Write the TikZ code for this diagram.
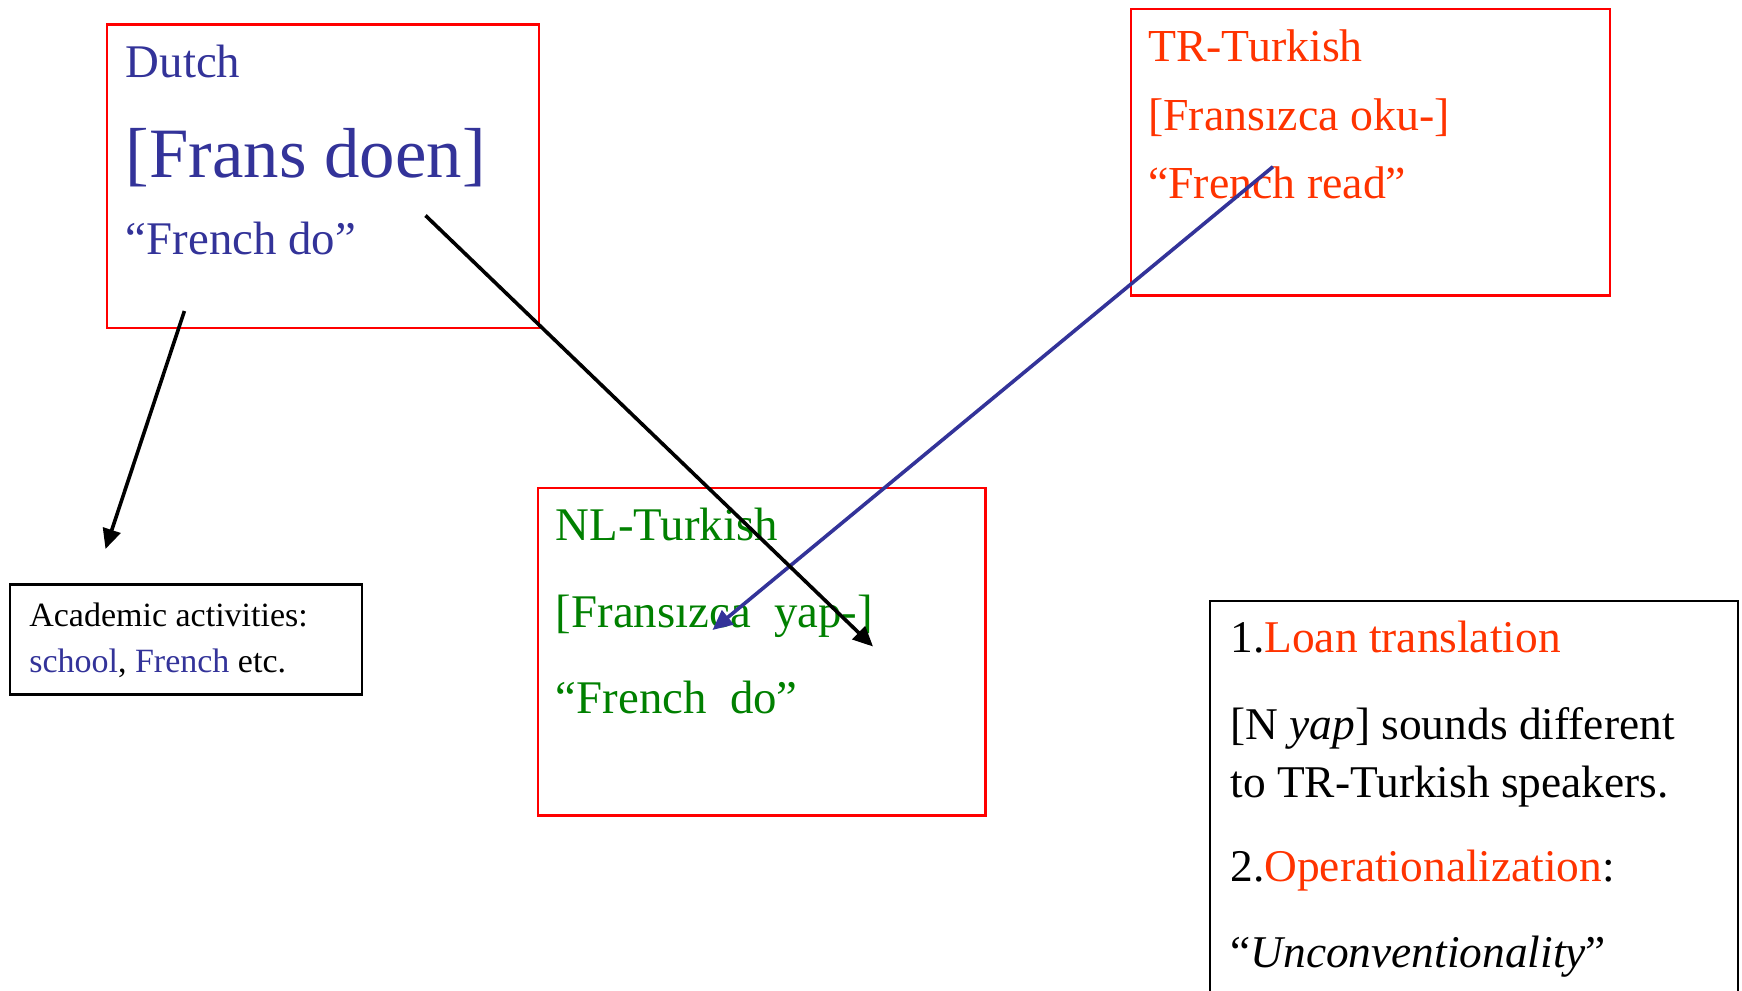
\documentclass[tikz,border=0pt]{standalone}
\usepackage{fontspec}
\setmainfont{Liberation Serif}
\usetikzlibrary{arrows.meta}
\definecolor{dblue}{HTML}{333399}
\definecolor{tred}{HTML}{FF3300}
\definecolor{boxred}{HTML}{FF0000}
\definecolor{dgreen}{HTML}{008000}
\begin{document}
\begin{tikzpicture}[x=0.5pt,y=-0.5pt,
  redbox/.style={draw=boxred,line width=1.1pt,anchor=north west,inner sep=0pt},
  blackbox/.style={draw=black,line width=1.2pt,anchor=north west,inner sep=0pt},
  txt/.style={anchor=base west,inner sep=0pt},
  fmain/.style={font=\fontsize{23.4}{28}\selectfont},
  arr/.style={line width=1.8pt,-{Triangle[length=10pt,width=9pt]}}]
\useasboundingbox (0,0) rectangle (1742,991);
\clip (0,0) rectangle (1742,991);
% boxes
\node[redbox,minimum width=216.1pt,minimum height=151.65pt] (dutchbox) at (105.5,23.3) {};
\node[redbox,minimum width=239.4pt,minimum height=143.3pt] (trbox) at (1130,7.8) {};
\node[redbox,minimum width=223.9pt,minimum height=163.9pt] (nlbox) at (536.6,486.6) {};
\node[blackbox,minimum width=176.05pt,minimum height=55pt] (acbox) at (8.9,583.3) {};
\node[blackbox,minimum width=263.85pt,minimum height=205pt] (rbox) at (1208.8,600) {};
% Dutch
\node[txt,fmain,text=dblue] (dutch) at (125.5,77.5) {Dutch};
\node[txt,text=dblue,font=\fontsize{35.4}{42}\selectfont] (fransdoen) at (125.5,177) {[Frans doen]};
\node[txt,fmain,text=dblue] (frdo) at (125.5,254) {“French do”};
% TR
\node[txt,text=tred,font=\fontsize{22.9}{28}\selectfont] (tr) at (1147.7,61) {TR-Turkish};
\node[txt,text=tred,font=\fontsize{22.9}{28}\selectfont] (troku) at (1147.7,130.5) {[Fransızca oku-]};
\node[txt,text=tred,font=\fontsize{22.9}{28}\selectfont] (trread) at (1147.7,198.5) {“French read”};
% NL
\node[txt,fmain,text=dgreen] (nl) at (555.5,540.5) {NL-Turkish};
\node[txt,fmain,text=dgreen] (nlyap) at (555.5,627) {[Fransızca\ \ yap-]};
\node[txt,fmain,text=dgreen] (nldo) at (555.5,713) {“French\ \ do”};
% Academic
\node[txt,font=\fontsize{17}{20}\selectfont] (ac1) at (28.9,626) {Academic activities:};
\node[txt,font=\fontsize{17}{20}\selectfont] (ac2) at (28.9,672) {\textcolor{dblue}{school}, \textcolor{dblue}{French} etc.};
% Right
\node[txt,font=\fontsize{22.7}{28}\selectfont] (r1) at (1230,652.5) {1.\textcolor{tred}{Loan translation}};
\node[txt,font=\fontsize{22.7}{28}\selectfont] (r2) at (1230,739) {[N \textit{yap}] sounds different};
\node[txt,font=\fontsize{22.7}{28}\selectfont] (r3) at (1230,797) {to TR-Turkish speakers.};
\node[txt,font=\fontsize{22.7}{28}\selectfont] (r4) at (1230,881.5) {2.\textcolor{tred}{Operationalization}:};
\node[txt,font=\fontsize{22.7}{28}\selectfont] (r5) at (1230,967) {“\textit{Unconventionality}”};
% arrows
\coordinate (a1s) at (184.4,311);
\coordinate (a1e) at (105.5,549);
\coordinate (a2s) at (425.5,215.5);
\coordinate (a2e) at (873,646.5);
\coordinate (a3s) at (1273,166.7);
\coordinate (a3e) at (712.5,630);
\draw[arr,draw=dblue,fill=dblue] (a3s) -- (a3e);
\draw[arr] (a1s) -- (a1e);
\draw[arr] (a2s) -- (a2e);
\end{tikzpicture}
\end{document}
